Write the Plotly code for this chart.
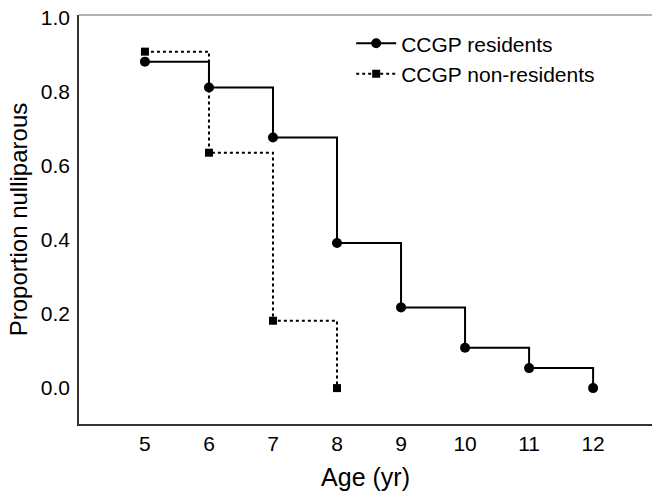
import plotly.graph_objects as go

ages_res = [5, 6, 7, 8, 9, 10, 11, 12]
prop_res = [0.882, 0.812, 0.677, 0.392, 0.218, 0.109, 0.054, 0.0]
ages_non = [5, 6, 7, 8]
prop_non = [0.909, 0.636, 0.182, 0.0]
x_ticks = [5, 6, 7, 8, 9, 10, 11, 12]
y_ticks = [0.0, 0.2, 0.4, 0.6, 0.8, 1.0]

FONT = "Liberation Sans, Arial, sans-serif"

fig = go.Figure()
fig.add_trace(go.Scatter(
    x=ages_res, y=prop_res, name="CCGP residents", mode="lines+markers",
    line=dict(shape="hv", color="black", width=2),
    marker=dict(symbol="circle", size=10, color="black"),
))
fig.add_trace(go.Scatter(
    x=ages_non, y=prop_non, name="CCGP non-residents", mode="lines+markers",
    line=dict(shape="hv", color="black", width=2, dash="dot"),
    marker=dict(symbol="square", size=8, color="black"),
))

fig.add_shape(type="line", xref="paper", yref="paper", x0=0, x1=1, y0=1, y1=1,
              line=dict(color="#999999", width=1.5))

fig.update_layout(
    width=652, height=494,
    margin=dict(l=79, r=0, t=15, b=70),
    plot_bgcolor="white", paper_bgcolor="white",
    font=dict(family=FONT, color="black", size=21),
    showlegend=True,
    legend=dict(x=0.475, y=0.98, xanchor="left", yanchor="top",
                font=dict(size=21, family=FONT), bgcolor="rgba(0,0,0,0)",
                tracegroupgap=0, itemwidth=40),
    xaxis=dict(range=[3.97, 12.92], tickvals=x_ticks, ticks="", showgrid=False,
               zeroline=False, showline=True, linecolor="#333333", linewidth=1.5,
               tickfont=dict(size=21),
               title=dict(text="Age (yr)", font=dict(size=25), standoff=15)),
    yaxis=dict(range=[-0.097, 1.008], tickvals=y_ticks, tickformat=".1f", ticks="",
               showgrid=False, zeroline=False, showline=True, linecolor="#333333",
               linewidth=1.5, tickfont=dict(size=21), ticklabelstandoff=3,
               title=dict(text="Proportion nulliparous", font=dict(size=24), standoff=6)),
)

fig.write_html("out.html")
